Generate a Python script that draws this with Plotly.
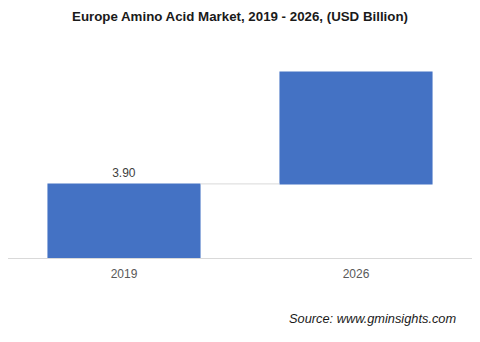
import plotly.graph_objects as go

categories = ["2019", "2026"]
measures = ["absolute", "relative"]
values = [3.90, 5.89]
labels = ["3.90", ""]

BAR = "#4472C4"

fig = go.Figure(go.Waterfall(
    x=categories,
    y=values,
    measure=measures,
    text=labels,
    textposition="outside",
    textfont=dict(family="Liberation Sans, Arial", size=12, color="#404040"),
    increasing=dict(marker=dict(color=BAR)),
    decreasing=dict(marker=dict(color=BAR)),
    totals=dict(marker=dict(color=BAR)),
    connector=dict(mode="between", line=dict(color="#d9d9d9", width=1)),
    width=0.66,
    hoverinfo="skip",
))

fig.update_layout(
    width=480, height=342,
    margin=dict(l=8, r=8, t=60, b=84),
    paper_bgcolor="white", plot_bgcolor="white",
    showlegend=False,
    title=dict(
        text="<b>Europe Amino Acid Market, 2019 - 2026, (USD Billion)</b>",
        x=0.5, xanchor="center", y=1 - 16/342, yanchor="middle",
        font=dict(family="Liberation Sans, Arial", size=13.3, color="#1a1a1a"),
    ),
    xaxis=dict(
        showline=True, linecolor="#d9d9d9", linewidth=1,
        showgrid=False, ticks="", ticklabelstandoff=5,
        tickfont=dict(family="Liberation Sans, Arial", size=12, color="#595959"),
    ),
    yaxis=dict(
        range=[0, (258 - 60) / 19.0],
        visible=False, showgrid=False, zeroline=False,
    ),
    annotations=[dict(
        text="<i>Source: www.gminsights.com</i>",
        xref="paper", yref="paper",
        x=(372 - 8) / 464, y=-(318 - 258) / 198,
        xanchor="center", yanchor="middle", showarrow=False,
        font=dict(family="Liberation Sans, Arial", size=12.8, color="#1a1a1a"),
    )],
)

fig.write_html("out.html")
